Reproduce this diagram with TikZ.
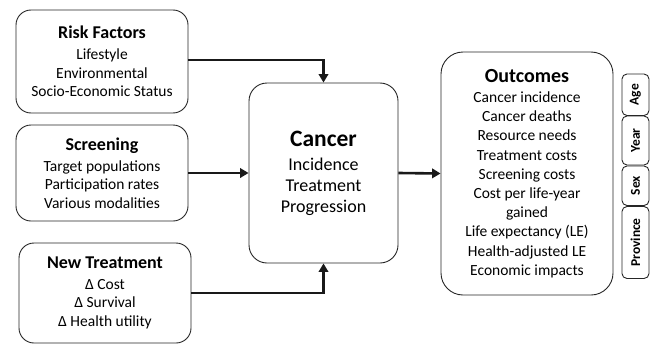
\documentclass[tikz,border=0pt]{standalone}
\usepackage{fontspec}
\setmainfont{Carlito}
\usetikzlibrary{arrows.meta}
\begin{document}
\begin{tikzpicture}[x=1pt,y=-1pt,
  box/.style={draw=black!85,line width=0.9pt,rounded corners=#1,inner sep=0pt,align=center},
  box/.default=15pt,
  sidebox/.style={draw=black!85,line width=0.9pt,rounded corners=5pt,inner sep=0pt,rotate=90,minimum height=27pt,font=\fontsize{13.5}{16}\selectfont\bfseries},
  arr/.style={draw=black!90,line width=2.6pt,-{Triangle[length=8.5pt,width=9.5pt]}},
  lbody/.style={font=\fontsize{15.5}{18.7}\selectfont}]
\useasboundingbox (0,0) rectangle (655,345);
\node[box,lbody,minimum width=172pt,minimum height=103pt] (risk) at (102,61.5)
  {{\fontsize{18}{18}\selectfont\bfseries Risk Factors}\\[2.3pt]Lifestyle\\Environmental\\Socio-Economic Status};
\node[box,lbody,minimum width=172pt,minimum height=96pt] (screen) at (102,173)
  {{\fontsize{18}{18}\selectfont\bfseries Screening}\\[2.3pt]Target populations\\Participation rates\\Various modalities};
\node[box,lbody,minimum width=172pt,minimum height=100pt] (newt) at (105,293)
  {{\fontsize{18}{18}\selectfont\bfseries New Treatment}\\[2pt]Δ Cost\\Δ Survival\\Δ Health utility};
\node[box=18pt,font=\fontsize{18}{21}\selectfont,minimum width=149pt,minimum height=180pt] (cancer) at (323.5,173)
  {{\fontsize{23.5}{21}\selectfont\bfseries Cancer}\\[2.7pt]Incidence\\Treatment\\Progression};
\node[box=22pt,font=\fontsize{15.5}{19.2}\selectfont,minimum width=172pt,minimum height=243pt] (outc) at (527,173.5)
  {{\fontsize{20}{19}\selectfont\bfseries Outcomes}\\[1.1pt]Cancer incidence\\Cancer deaths\\Resource needs\\Treatment costs\\Screening costs\\Cost per life-year\\gained\\Life expectancy (LE)\\Health-adjusted LE\\Economic impacts};
\node[sidebox,minimum width=41.5pt] (age) at (635.5,94.75) {Age};
\node[sidebox,minimum width=49pt] (year) at (635.5,140.5) {Year};
\node[sidebox,minimum width=39.5pt] (sex) at (635.5,185.75) {Sex};
\node[sidebox,minimum width=72pt] (prov) at (635.5,242.5) {Province};
\draw[arr] (risk.east |- 0,60) -| (cancer.north);
\draw[arr] (screen.east) -- (cancer.west);
\draw[arr] (newt.east) -| (cancer.south);
\draw[arr] (cancer.east) -- (outc.west);
\end{tikzpicture}
\end{document}
